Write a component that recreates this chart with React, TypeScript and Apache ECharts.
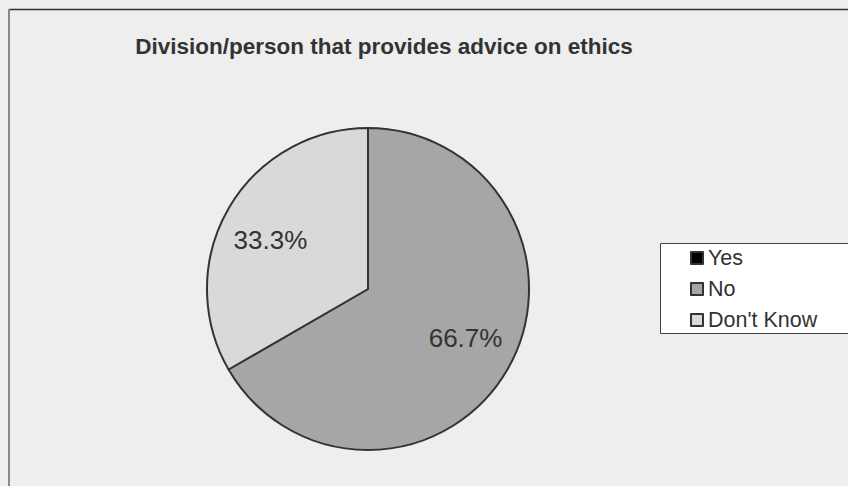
import React, { useEffect, useRef } from "react";
import * as echarts from "echarts";

const titleText = "Division/person that provides advice on ethics";
const categories = ["Yes", "No", "Don't Know"];
const values = [0, 2, 1];
const colors = ["#000000", "#A6A6A6", "#D9D9D9"];

const FONT = "'Liberation Sans', Arial, sans-serif";

export default function App() {
  const ref = useRef<HTMLDivElement>(null);
  useEffect(() => {
    if (!ref.current) return;
    const chart = echarts.init(ref.current, null, { renderer: "svg" });
    const data = categories.map((name, i) => ({
      name,
      value: values[i],
      itemStyle: { color: colors[i] },
    }));
    chart.setOption({
      animation: false,
      backgroundColor: "#EEEEEE",
      title: {
        text: titleText,
        left: 379,
        textAlign: "center",
        top: 30,
        textStyle: { fontFamily: FONT, fontSize: 22.5, fontWeight: "bold", color: "#333333" },
      },
      graphic: [
        { type: "line", shape: { x1: 9, y1: 9.5, x2: 848, y2: 9.5 }, style: { stroke: "#333333", lineWidth: 1.5 }, z: 1 },
        { type: "line", shape: { x1: 9, y1: 9, x2: 9, y2: 486 }, style: { stroke: "#888888", lineWidth: 2 }, z: 1 },
        { type: "rect", shape: { x: 660.5, y: 243.5, width: 300, height: 90 }, style: { fill: "#FFFFFF", stroke: "#404040", lineWidth: 1 }, z: 1 },
      ],
      legend: {
        data: categories,
        orient: "vertical",
        left: 690,
        top: 247,
        padding: 0,
        itemWidth: 12,
        itemHeight: 12,
        itemGap: 9,
        icon: "rect",
        selectedMode: false,
        textStyle: { fontFamily: FONT, fontSize: 21.5, color: "#333333", lineHeight: 22 },
        z: 5,
      },
      series: [
        {
          type: "pie",
          center: [368, 289],
          radius: 161,
          startAngle: 90,
          clockwise: true,
          silent: true,
          label: { show: false },
          labelLine: { show: false },
          itemStyle: { borderColor: "#333333", borderWidth: 2 },
          data,
        },
        {
          type: "pie",
          center: [368, 289],
          radius: 212,
          startAngle: 93.5,
          clockwise: true,
          silent: true,
          itemStyle: { color: "transparent", borderWidth: 0 },
          label: {
            show: true,
            position: "inside",
            fontFamily: FONT,
            fontSize: 26,
            color: "#333333",
            formatter: (p: any) => (p.value > 0 ? p.percent.toFixed(1) + "%" : ""),
          },
          labelLine: { show: false },
          data: categories.map((name, i) => ({ name, value: values[i] })),
          z: 3,
        },
      ],
    });
    return () => chart.dispose();
  }, []);
  return (
    <div
      ref={ref}
      style={{ position: "fixed", left: 0, top: 0, width: 848, height: 486 }}
    />
  );
}
